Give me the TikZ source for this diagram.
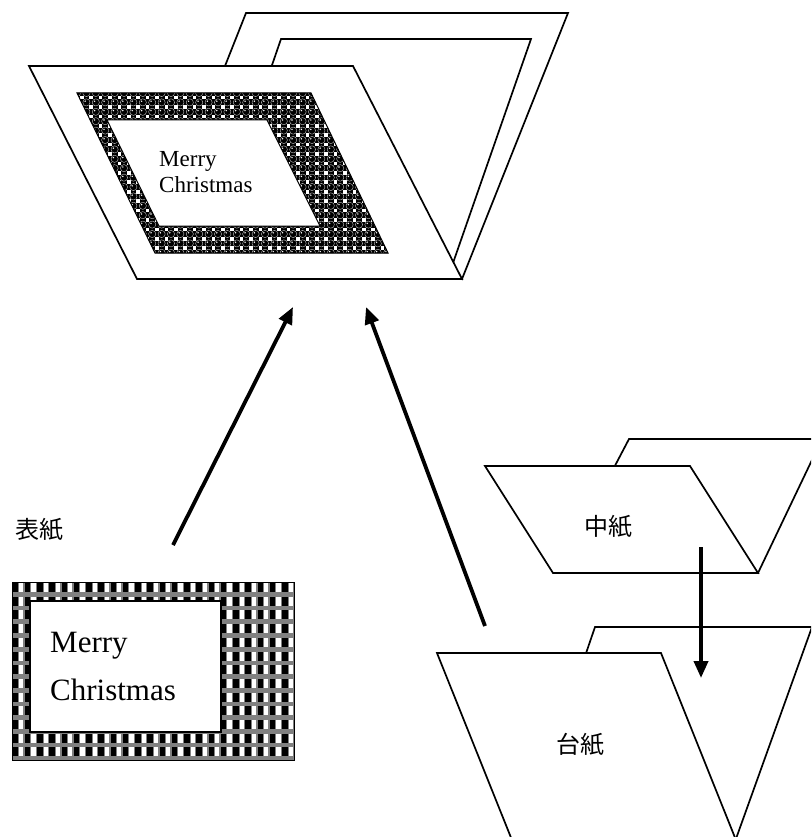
\documentclass[tikz,border=0pt]{standalone}
\usepackage{fontspec}
\setmainfont{Liberation Serif}
\newfontfamily\cjk{Noto Sans CJK JP}
\usetikzlibrary{arrows.meta}
\begin{document}
\begin{tikzpicture}[x=1pt,y=-1pt,
  sheet/.style={draw=black,fill=white,line width=1.7pt,line join=miter},
  flow/.style={line width=3.8pt,-{Triangle[length=17pt,width=14pt]}},
  jlabel/.style={font=\cjk\fontsize{24}{28}\selectfont,inner sep=0pt},
  greetsmall/.style={font=\fontsize{23}{26}\selectfont,inner sep=0pt,anchor=base west},
  greetbig/.style={font=\fontsize{31}{36}\selectfont,inner sep=0pt,anchor=base west},
]
\clip (0,0) rectangle (811,837);
\fill[white] (0,0) rectangle (811,837);

% ---- assembled card: two inner sheets behind the cover ----
\draw[sheet] (246,13) -- (568,13) -- (462,279) -- (225,66) -- cycle;
\draw[sheet] (281,39) -- (531,39) -- (453,263) -- (260,100) -- cycle;
\draw[sheet] (29,66) -- (353,66) -- (462,279) -- (137,279) -- cycle;

% beaded frame on the cover
\begin{scope}
  \clip (77,93) -- (311,93) -- (388,253) -- (155,253) -- cycle;
  \fill[black] (70,88) rectangle (395,260);
  \foreach \i in {0,...,34}{
    \foreach \j in {0,...,17}{
      \pgfmathsetmacro\bx{77+\i*9.4}
      \pgfmathsetmacro\by{93+\j*9.4}
      \fill[white] (\bx+2.9,\by+2.9) rectangle ++(3.6,3.6);
      \filldraw[fill=black,draw=gray!45,line width=0.4pt] (\bx,\by) circle[radius=3.6pt];
      \fill[white] (\bx-1.2,\by-1.2) circle[radius=0.8pt];
    }
  }
\end{scope}
\draw[line width=1pt] (77,93) -- (311,93) -- (388,253) -- (155,253) -- cycle;
\draw[fill=white,line width=1pt] (107,120) -- (267,120) -- (320,226) -- (159,226) -- cycle;
\node[greetsmall] (greetTopA) at (159,167) {Merry};
\node[greetsmall] (greetTopB) at (159,193) {Christmas};

% ---- flat cover with checked border ----
\begin{scope}
  \clip (12,582) rectangle (294,760);
  \fill[black!50] (12,582) rectangle (294,760);
  \foreach \i in {0,...,23}{
    \foreach \j in {0,...,13}{
      \pgfmathsetmacro\cx{12+\i*12.25}
      \pgfmathsetmacro\cy{583+\j*13.7}
      \fill[black] (\cx+0.6,\cy) rectangle ++(5.6,9);
      \fill[white] (\cx+7,\cy) rectangle ++(4.4,9);
    }
  }
\end{scope}
\draw[line width=1pt] (12,582) rectangle (294,760);
\draw[fill=white,line width=2pt] (30,601) rectangle (221,732);
\node[greetbig] (greetFlatA) at (50,652) {Merry};
\node[greetbig] (greetFlatB) at (50,700) {Christmas};
\node[jlabel] (hyoshi) at (40,530) {表紙};

% ---- inner sheet ----
\draw[sheet] (629,439) -- (822,439) -- (758,573) -- (597,500) -- cycle;
\draw[sheet] (485,466) -- (690,466) -- (758,573) -- (553,573) -- cycle;
\node[jlabel] (nakashi) at (608,527) {中紙};

% ---- base sheet ----
\draw[sheet] (595,627) -- (812,627) -- (714,900) -- (570,700) -- cycle;
\draw[sheet] (437,653) -- (661,653) -- (760,900) -- (536,900) -- cycle;
\node[jlabel] (daishi) at (580,745) {台紙};

% ---- assembly arrows ----
\coordinate (coverTail) at (173,545);
\coordinate (cardInA) at (293,307);
\coordinate (baseTail) at (485,626);
\coordinate (cardInB) at (366,307);
\coordinate (innerTail) at (701,547);
\coordinate (baseIn) at (701,678);
\draw[flow] (coverTail) -- (cardInA);
\draw[flow] (baseTail) -- (cardInB);
\draw[flow] (innerTail) -- (baseIn);
\end{tikzpicture}
\end{document}
